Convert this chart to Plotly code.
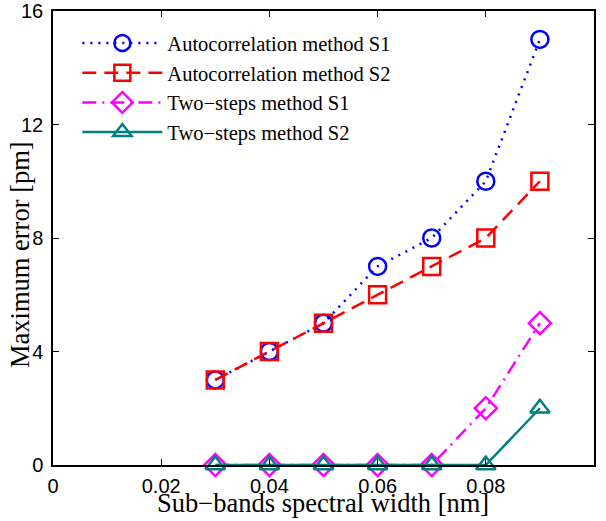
import plotly.graph_objects as go

x = [0.03, 0.04, 0.05, 0.06, 0.07, 0.08, 0.09]
auto_s1 = [3, 4, 5, 7, 8, 10, 15]
auto_s2 = [3, 4, 5, 6, 7, 8, 10]
two_s1 = [0, 0, 0, 0, 0, 2, 5]
two_s2 = [0, 0, 0, 0, 0, 0, 2]
names = ["Autocorrelation method S1", "Autocorrelation method S2",
         "Two\u2212steps method S1", "Two\u2212steps method S2"]
xticks = [0, 0.02, 0.04, 0.06, 0.08, 0.1]
xticklabels = ["0", "0.02", "0.04", "0.06", "0.08", "0.1"]
yticks = [0, 4, 8, 12, 16]
x_title = "Sub\u2212bands spectral width [nm]"
y_title = "Maximum error [pm]"

series = [
    (auto_s1, "#0000ff", "2px,6px", "circle-open"),
    (auto_s2, "#ff0000", "14px,8px", "square-open"),
    (two_s1, "#ff00ff", "14px,6px,2px,6px", "diamond-open"),
    (two_s2, "#008080", "solid", "triangle-up-open"),
]

fig = go.Figure()
for (ys, col, dash, sym), name in zip(series, names):
    fig.add_trace(go.Scatter(
        x=x, y=ys, name=name, mode="lines+markers",
        line=dict(color=col, width=2.5, dash=dash),
        marker=dict(symbol=sym, size=17, color=col, line=dict(width=2.5, color=col)),
        cliponaxis=False,
    ))

axis_common = dict(
    showgrid=False, zeroline=False, showline=True, linecolor="black", linewidth=1.5,
    mirror="ticks", ticks="inside", ticklen=6, tickwidth=1, tickcolor="black",
    automargin=False,
    tickfont=dict(family="Liberation Sans, Arial", size=20, color="black"),
)

serif = "Liberation Serif, Times New Roman"
PW, PH = 541, 454
fig.update_layout(
    width=606, height=521,
    margin=dict(l=53, r=12, t=11, b=56),
    paper_bgcolor="white", plot_bgcolor="white",
    xaxis=dict(range=[0, 0.1], tickvals=xticks, ticktext=xticklabels,
               ticklabelstandoff=2, **axis_common),
    yaxis=dict(range=[0, 16], tickvals=yticks, ticklabelstandoff=4, **axis_common),
    legend=dict(x=0.045, y=0.973, xanchor="left", yanchor="top",
                bgcolor="rgba(255,255,255,0)", borderwidth=0,
                font=dict(family=serif, size=20.5, color="black"),
                tracegroupgap=0, itemwidth=80),
    showlegend=True,
    annotations=[
        dict(text=x_title, xref="paper", yref="paper", x=(322.5 - 53) / PW,
             y=-(503 - 465) / PH, xanchor="center", yanchor="middle", showarrow=False,
             font=dict(family=serif, size=26.5, color="black")),
        dict(text=y_title, xref="paper", yref="paper", x=-(53 - 20) / PW,
             y=(465 - 255) / PH, xanchor="center", yanchor="middle", showarrow=False,
             textangle=-90, font=dict(family=serif, size=26.5, color="black")),
    ],
)

fig.write_html("out.html", config={"displayModeBar": False},
               post_script="document.body.style.margin='0';")
